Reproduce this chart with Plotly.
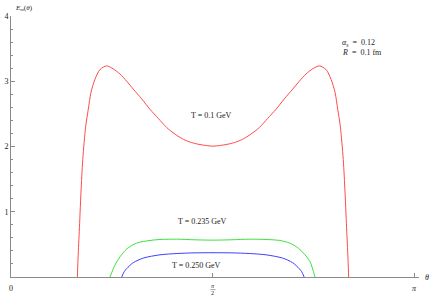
import math
import plotly.graph_objects as go

# ---- data ----
theta_red = [0.516, 0.520, 0.525, 0.531, 0.544, 0.558, 0.581, 0.601, 0.622, 0.653, 0.692, 0.744,
             0.795, 0.848, 0.900, 0.951, 1.016, 1.081, 1.146, 1.211, 1.275, 1.340, 1.405, 1.470,
             1.571, 1.672, 1.737, 1.801, 1.866, 1.931, 1.996, 2.061, 2.126, 2.191, 2.242,
             2.294, 2.346, 2.398, 2.450, 2.489, 2.520, 2.541, 2.561, 2.584, 2.598, 2.611,
             2.617, 2.622, 2.626]
E_red = [0.0, 0.22, 0.45, 0.70, 1.29, 1.80, 2.31, 2.57, 2.83, 3.03, 3.18, 3.235,
         3.19, 3.11, 3.00, 2.88, 2.73, 2.57, 2.43, 2.29, 2.19, 2.11, 2.06, 2.03,
         2.005, 2.03, 2.06, 2.11, 2.19, 2.29, 2.43, 2.57, 2.73, 2.88, 3.00,
         3.11, 3.19, 3.235, 3.18, 3.03, 2.83, 2.57, 2.31, 1.80, 1.29, 0.70,
         0.45, 0.22, 0.0]

theta_green = [0.770, 0.809, 0.848, 0.900, 0.977, 1.081, 1.159, 1.288, 1.430, 1.571,
               1.712, 1.853, 1.982, 2.090, 2.167, 2.222, 2.273, 2.325, 2.364]
E_green = [0.0, 0.185, 0.31, 0.43, 0.52, 0.56, 0.575, 0.58, 0.57, 0.565,
           0.57, 0.58, 0.575, 0.56, 0.52, 0.46, 0.37, 0.235, 0.0]

theta_blue = [0.861, 0.880, 0.900, 0.951, 1.029, 1.159, 1.290, 1.430, 1.571,
              1.712, 1.853, 1.983, 2.112, 2.190, 2.241, 2.261, 2.280]
E_blue = [0.0, 0.08, 0.13, 0.22, 0.29, 0.34, 0.36, 0.37, 0.372,
          0.37, 0.36, 0.34, 0.29, 0.22, 0.13, 0.08, 0.0]

curve_labels = ["T = 0.1 GeV", "T = 0.235 GeV", "T = 0.250 GeV"]
label_pos_theta = [1.563, 1.493, 1.444]
label_pos_E = [2.48, 0.85, 0.17]

y_tick_vals = [1, 2, 3, 4]
x_tick_vals = [math.pi / 2, math.pi]

# ---- figure ----
SERIF = "Liberation Serif"
AX = "#8a8a8a"
TXT = "#222222"

fig = go.Figure()
for th, e, col in [(theta_red, E_red, "#ff4a4a"),
                   (theta_green, E_green, "#3fe03f"),
                   (theta_blue, E_blue, "#4040ff")]:
    fig.add_trace(go.Scatter(x=th, y=e, mode="lines",
                             line=dict(color=col, width=1.0, shape="spline", smoothing=0.8),
                             showlegend=False, hoverinfo="skip"))

ann = []
for t, x, y in zip(curve_labels, label_pos_theta, label_pos_E):
    ann.append(dict(x=x, y=y, xref="x", yref="y", text=t, showarrow=False,
                    font=dict(family=SERIF, size=8, color=TXT)))
ann.append(dict(x=0.806, y=0.925, xref="paper", yref="paper", xanchor="left",
                text="<i>α<sub>s</sub></i>  =  0.12", showarrow=False,
                font=dict(family=SERIF, size=8, color=TXT)))
ann.append(dict(x=0.806, y=0.885, xref="paper", yref="paper", xanchor="left",
                text="<i>R</i>  =  0.1 fm", showarrow=False,
                font=dict(family=SERIF, size=8, color=TXT)))
ann.append(dict(x=0.005, y=1.0, xref="paper", yref="paper", xanchor="left",
                yanchor="bottom", yshift=2,
                text="<i>E<sub>m</sub></i>(<i>θ</i>)", showarrow=False,
                font=dict(family=SERIF, size=7, color=TXT)))
ann.append(dict(x=1.0, y=0, xref="paper", yref="y", xanchor="left", xshift=4,
                text="<i>θ</i>", showarrow=False,
                font=dict(family=SERIF, size=8, color=TXT)))
# x tick labels
ann.append(dict(x=0, y=0, xref="x", yref="y", yanchor="top", yshift=-5,
                text="0", showarrow=False, font=dict(family=SERIF, size=8, color=TXT)))
ann.append(dict(x=x_tick_vals[0], y=0, xref="x", yref="y", yanchor="top", yshift=-4,
                text="<i>π</i>", showarrow=False, font=dict(family=SERIF, size=6, color=TXT)))
ann.append(dict(x=x_tick_vals[0], y=0, xref="x", yref="y", yanchor="top", yshift=-11,
                text="2", showarrow=False, font=dict(family=SERIF, size=6, color=TXT)))
ann.append(dict(x=x_tick_vals[1], y=0, xref="x", yref="y", yanchor="top", yshift=-5,
                text="<i>π</i>", showarrow=False, font=dict(family=SERIF, size=8, color=TXT)))

fig.update_layout(
    width=436, height=299,
    margin=dict(l=11, r=17, t=16, b=22, autoexpand=False),
    paper_bgcolor="white", plot_bgcolor="white",
    annotations=ann,
    shapes=[dict(type="line", xref="x", yref="paper", x0=x_tick_vals[0] - 0.02,
                 x1=x_tick_vals[0] + 0.02, y0=-0.048, y1=-0.048,
                 line=dict(color="#555", width=0.5))],
    xaxis=dict(range=[0, 3.173], showgrid=False, zeroline=False, automargin=False,
               showline=True, linecolor=AX, linewidth=1,
               tickvals=x_tick_vals, ticks="inside",
               ticklen=4, tickcolor=AX, showticklabels=False, fixedrange=True),
    yaxis=dict(range=[0, 4], showgrid=False, zeroline=False, automargin=False,
               showline=True, linecolor=AX, linewidth=1,
               tickvals=y_tick_vals, ticks="inside", ticklen=4, tickcolor=AX,
               tickfont=dict(family=SERIF, size=8, color=TXT),
               minor=dict(ticks="inside", dtick=0.2, ticklen=2, tickcolor=AX),
               fixedrange=True),
)
fig.write_html("out.html", config={"displayModeBar": False},
               post_script="document.body.style.margin='0';document.body.style.overflow='hidden';")
